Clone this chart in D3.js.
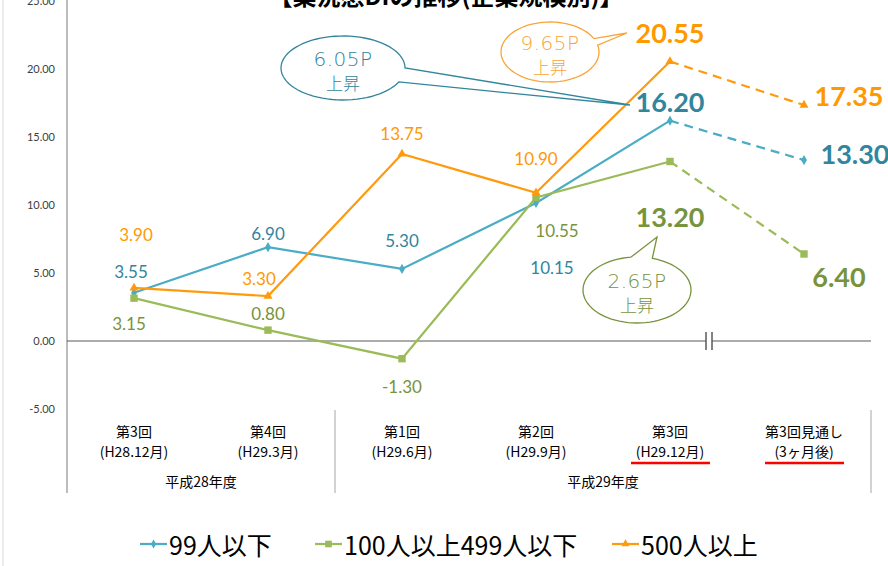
<!DOCTYPE html>
<html><head><meta charset="utf-8">
<script src="https://cdn.jsdelivr.net/npm/d3@7"></script>
<style>
body{margin:0;background:#fff;}
svg{display:block;}
</style></head>
<body>
<svg id="c" width="888" height="566"></svg>
<script>
const categories = ["c1","c2","c3","c4","c5","c6"];
const catLine1 = ["第3回","第4回","第1回","第2回","第3回","第3回見通し"];
const catLine2 = ["(H28.12月)","(H29.3月)","(H29.6月)","(H29.9月)","(H29.12月)","(3ヶ月後)"];
const fiscalYears = ["平成28年度","平成29年度"];
const fiscalSpan = [[0,1],[2,5]];
const seriesNames = ["99人以下","100人以上499人以下","500人以上"];
const small = [3.55, 6.90, 5.30, 10.15, 16.20, 13.30];
const medium = [3.15, 0.80, -1.30, 10.55, 13.20, 6.40];
const large = [3.90, 3.30, 13.75, 10.90, 20.55, 17.35];
const yTicks = [-5, 0, 5, 10, 15, 20, 25];
const callouts = [
  {text:"6.05P", sub:"上昇", series:0},
  {text:"9.65P", sub:"上昇", series:2},
  {text:"2.65P", sub:"上昇", series:1}
];

const fmt = v => d3.format(".2f")(v).replace("\u2212","-");
const svg = d3.select("#c");
const y = d3.scaleLinear().domain([-5, 25]).range([409, 1]);
const x = d3.scaleBand().domain(categories).range([67, 871]);
const cx = i => x(categories[i]) + x.bandwidth()/2;

const lineCol = ["#4BACC6","#9BBB59","#FF9A0F"];
const labCol = ["#31859C","#77933C","#FF9900"];
const data = [small, medium, large];

// left border
svg.append("line").attr("x1",3).attr("x2",3).attr("y1",0).attr("y2",566).attr("stroke","#D9D9D9").attr("stroke-width",1);

// title (cut at top)
svg.append("text").attr("x",446).attr("y",5).attr("text-anchor","middle")
  .attr("font-family","'Noto Sans CJK JP'").attr("font-weight","bold").attr("font-size",24)
  .attr("fill","#000").text("【業況感DIの推移(企業規模別)】");

// y axis
const yAxis = d3.axisLeft(y).tickValues(yTicks).tickFormat(fmt).tickSize(0).tickPadding(12);
const ga = svg.append("g").attr("transform","translate(67,0)").call(yAxis);
ga.select(".domain").remove();
ga.selectAll("text").attr("font-family","Lato, 'Liberation Sans', sans-serif").attr("font-size",11).attr("fill","#404040");
svg.append("line").attr("x1",67).attr("x2",67).attr("y1",0).attr("y2",493).attr("stroke","#A6A6A6").attr("stroke-width",1.5);

// zero line with break
const bx = 709;
svg.append("line").attr("x1",67).attr("x2",bx-3).attr("y1",y(0)).attr("y2",y(0)).attr("stroke","#595959").attr("stroke-width",1);
svg.append("line").attr("x1",bx+3).attr("x2",871).attr("y1",y(0)).attr("y2",y(0)).attr("stroke","#595959").attr("stroke-width",1);
[bx-3, bx+3].forEach(v=>svg.append("line").attr("x1",v).attr("x2",v).attr("y1",y(0)-9).attr("y2",y(0)+9).attr("stroke","#595959").attr("stroke-width",1.5));

// category separators
[x(categories[2]), 871].forEach(v=>svg.append("line").attr("x1",v).attr("x2",v).attr("y1",410).attr("y2",493).attr("stroke","#A6A6A6").attr("stroke-width",1));

// category labels
const catFont = "'Noto Sans CJK JP', sans-serif";
categories.forEach((c,i)=>{
  svg.append("text").attr("x",cx(i)).attr("y",437).attr("text-anchor","middle").attr("font-family",catFont).attr("font-size",14).attr("fill","#000").text(catLine1[i]);
  svg.append("text").attr("x",cx(i)).attr("y",457).attr("text-anchor","middle").attr("font-family",catFont).attr("font-size",14).attr("fill","#000").text(catLine2[i]);
});
fiscalYears.forEach((t,k)=>{
  const a = x(categories[fiscalSpan[k][0]]), b = x(categories[fiscalSpan[k][1]]) + x.bandwidth();
  svg.append("text").attr("x",(a+b)/2).attr("y",487).attr("text-anchor","middle").attr("font-family",catFont).attr("font-size",14).attr("fill","#000").text(t);
});
// red underlines
[4,5].forEach(i=>svg.append("line").attr("x1",cx(i)-39).attr("x2",cx(i)+40).attr("y1",463).attr("y2",463).attr("stroke","#FF0000").attr("stroke-width",2.5));

// lines
const line = d3.line().x(d=>cx(d.i)).y(d=>y(d.v));
const symbols = [d3.symbolDiamond, d3.symbolSquare, d3.symbolTriangle];
const symSize = [30, 55, 35];
data.forEach((arr,s)=>{
  const pts = arr.map((v,i)=>({i,v}));
  svg.append("path").attr("d",line(pts.slice(0,5))).attr("fill","none").attr("stroke",lineCol[s]).attr("stroke-width",2.2);
  svg.append("path").attr("d",line(pts.slice(4,6))).attr("fill","none").attr("stroke",lineCol[s]).attr("stroke-width",2.2).attr("stroke-dasharray","9,6");
});
data.forEach((arr,s)=>{
  arr.forEach((v,i)=>{
    svg.append("path").attr("d",d3.symbol().type(symbols[s]).size(symSize[s])())
      .attr("transform",`translate(${cx(i)},${y(v)})`).attr("fill",lineCol[s]);
  });
});

// data labels: offsets [dx, dy] of label center from point
const labelOffsets = [
  [[-3,-21],[0,-14],[0,-28],[16,65],[0,-19],[51,-7]],
  [[-5,25],[0,-17],[0,28],[21,33],[0,55],[35,23]],
  [[2,-53],[-9,-18],[0,-21],[0,-34],[0,-29],[45,-10]]
];
data.forEach((arr,s)=>{
  arr.forEach((v,i)=>{
    const big = i>=4;
    svg.append("text").attr("x",cx(i)+labelOffsets[s][i][0]).attr("y",y(v)+labelOffsets[s][i][1])
      .attr("text-anchor","middle").attr("dominant-baseline","central")
      .attr("font-family","Lato, 'Open Sans', sans-serif")
      .attr("font-weight", big ? "bold":"normal")
      .attr("font-size", big ? 27 : 17)
      .attr("fill", labCol[s]).text(fmt(v));
  });
});

// callouts
const calloutGeom = [
  {c:[343,68], r:[62,32], tip:[630,105], base:[[403,68],[399,82]], col:"#31859C"},
  {c:[550,52], r:[49,30], tip:[627,33], base:[[596,38],[599,45]], col:"#F9A53A"},
  {c:[637,290], r:[54,33], tip:[657,237], base:[[631,258],[652,259]], col:"#77933C"}
];
callouts.forEach((co,k)=>{
  const g = calloutGeom[k];
  const p = d3.path();
  const N = 72;
  const ang = g.base.map(b=>Math.atan2((b[1]-g.c[1])/g.r[1],(b[0]-g.c[0])/g.r[0]));
  const a0 = ang[0], a1 = ang[1];
  let gap = a1 - a0; gap = ((gap % (2*Math.PI)) + 2*Math.PI) % (2*Math.PI);
  let from, sweep;
  if (gap < Math.PI) { from = a1; sweep = 2*Math.PI - gap; } else { from = a0; sweep = gap; }
  p.moveTo(g.c[0]+g.r[0]*Math.cos(from), g.c[1]+g.r[1]*Math.sin(from));
  for (let j=1;j<=N;j++){ const t = from + sweep*j/N; p.lineTo(g.c[0]+g.r[0]*Math.cos(t), g.c[1]+g.r[1]*Math.sin(t)); }
  p.lineTo(g.tip[0], g.tip[1]);
  p.closePath();
  svg.append("path").attr("d",p.toString()).attr("fill","#fff").attr("stroke",g.col).attr("stroke-width",1.3).attr("stroke-linejoin","miter");
  svg.append("text").attr("x",g.c[0]).attr("y",g.c[1]-9).attr("text-anchor","middle").attr("dominant-baseline","central")
    .attr("font-family","'DejaVu Sans', sans-serif").attr("font-weight",200).attr("font-size",20).attr("letter-spacing",0.5)
    .attr("fill",g.col).text(co.text);
  svg.append("text").attr("x",g.c[0]).attr("y",g.c[1]+14).attr("text-anchor","middle").attr("dominant-baseline","central")
    .attr("font-family","'Noto Sans CJK JP', sans-serif").attr("font-weight",300).attr("font-size",17)
    .attr("fill",g.col).text(co.sub);
});

// legend
const legendX = [140, 315, 612];
seriesNames.forEach((n,s)=>{
  const lx = legendX[s], ly = 544;
  svg.append("line").attr("x1",lx).attr("x2",lx+27).attr("y1",ly).attr("y2",ly).attr("stroke",lineCol[s]).attr("stroke-width",2.2);
  svg.append("path").attr("d",d3.symbol().type(symbols[s]).size(symSize[s]*0.8)()).attr("transform",`translate(${lx+13.5},${ly})`).attr("fill",lineCol[s]);
  svg.append("text").attr("x",lx+29).attr("y",ly).attr("dominant-baseline","central")
    .attr("font-family","'Noto Sans CJK JP', sans-serif").attr("font-size",25).attr("fill","#000").text(n);
});
</script>
</body></html>
